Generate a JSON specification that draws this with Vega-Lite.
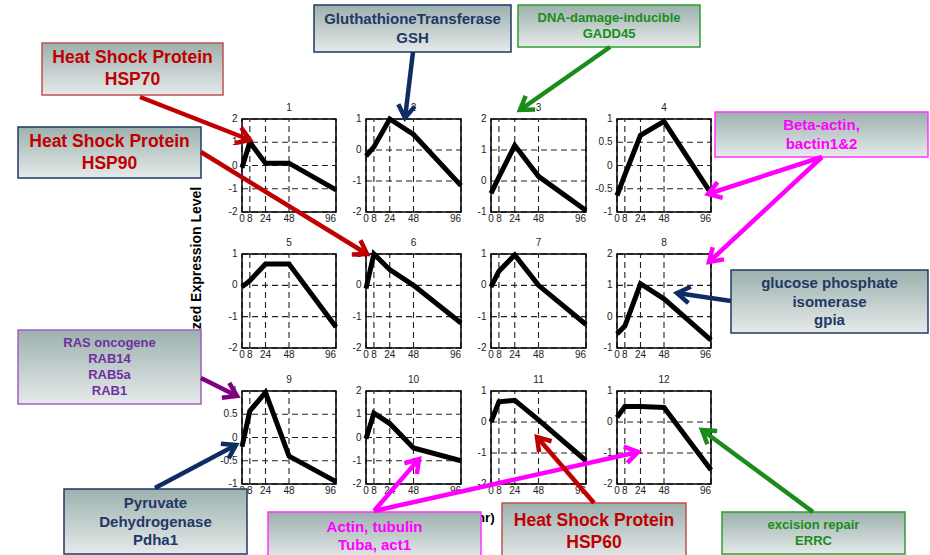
{
  "$schema": "https://vega.github.io/schema/vega-lite/v6.json",
  "width": 930,
  "height": 555,
  "padding": 0,
  "autosize": "none",
  "background": "white",
  "config": {
    "view": {"stroke": null},
    "font": "Liberation Sans",
    "rule": {"strokeDash": [6, 4], "color": "#222222", "strokeWidth": 1.1},
    "text": {"font": "Liberation Sans", "fontSize": 10, "color": "#222222"}
  },
  "datasets": {
    "panelRows": [
      {"panel": 1, "hour": 0, "level": -0.1}, {"panel": 1, "hour": 8, "level": 1.0}, {"panel": 1, "hour": 24, "level": 0.1}, {"panel": 1, "hour": 48, "level": 0.1}, {"panel": 1, "hour": 96, "level": -1.05},
      {"panel": 2, "hour": 0, "level": -0.2}, {"panel": 2, "hour": 8, "level": 0.1}, {"panel": 2, "hour": 24, "level": 1.0}, {"panel": 2, "hour": 48, "level": 0.5}, {"panel": 2, "hour": 96, "level": -1.15},
      {"panel": 3, "hour": 0, "level": -0.4}, {"panel": 3, "hour": 8, "level": 0.13}, {"panel": 3, "hour": 24, "level": 1.15}, {"panel": 3, "hour": 48, "level": 0.15}, {"panel": 3, "hour": 96, "level": -0.95},
      {"panel": 4, "hour": 0, "level": -0.65}, {"panel": 4, "hour": 8, "level": -0.2}, {"panel": 4, "hour": 24, "level": 0.65}, {"panel": 4, "hour": 48, "level": 0.95}, {"panel": 4, "hour": 96, "level": -0.6},
      {"panel": 5, "hour": 0, "level": -0.05}, {"panel": 5, "hour": 8, "level": 0.15}, {"panel": 5, "hour": 24, "level": 0.68}, {"panel": 5, "hour": 48, "level": 0.68}, {"panel": 5, "hour": 96, "level": -1.33},
      {"panel": 6, "hour": 0, "level": -0.1}, {"panel": 6, "hour": 8, "level": 1.0}, {"panel": 6, "hour": 24, "level": 0.5}, {"panel": 6, "hour": 48, "level": 0.0}, {"panel": 6, "hour": 96, "level": -1.2},
      {"panel": 7, "hour": 0, "level": -0.05}, {"panel": 7, "hour": 8, "level": 0.45}, {"panel": 7, "hour": 24, "level": 0.97}, {"panel": 7, "hour": 48, "level": 0.0}, {"panel": 7, "hour": 96, "level": -1.25},
      {"panel": 8, "hour": 0, "level": -0.55}, {"panel": 8, "hour": 8, "level": -0.3}, {"panel": 8, "hour": 24, "level": 1.05}, {"panel": 8, "hour": 48, "level": 0.57}, {"panel": 8, "hour": 96, "level": -0.75},
      {"panel": 9, "hour": 0, "level": -0.2}, {"panel": 9, "hour": 8, "level": 0.57}, {"panel": 9, "hour": 24, "level": 0.97}, {"panel": 9, "hour": 48, "level": -0.4}, {"panel": 9, "hour": 96, "level": -0.95},
      {"panel": 10, "hour": 0, "level": -0.05}, {"panel": 10, "hour": 8, "level": 1.05}, {"panel": 10, "hour": 24, "level": 0.6}, {"panel": 10, "hour": 48, "level": -0.45}, {"panel": 10, "hour": 96, "level": -1.0},
      {"panel": 11, "hour": 0, "level": 0.0}, {"panel": 11, "hour": 8, "level": 0.65}, {"panel": 11, "hour": 24, "level": 0.7}, {"panel": 11, "hour": 48, "level": 0.07}, {"panel": 11, "hour": 96, "level": -1.25},
      {"panel": 12, "hour": 0, "level": 0.15}, {"panel": 12, "hour": 8, "level": 0.5}, {"panel": 12, "hour": 24, "level": 0.5}, {"panel": 12, "hour": 48, "level": 0.47}, {"panel": 12, "hour": 96, "level": -1.55},
      {"panel": 1, "tick": -2}, {"panel": 1, "tick": -1}, {"panel": 1, "tick": 0}, {"panel": 1, "tick": 1}, {"panel": 1, "tick": 2},
      {"panel": 2, "tick": -2}, {"panel": 2, "tick": -1}, {"panel": 2, "tick": 0}, {"panel": 2, "tick": 1},
      {"panel": 3, "tick": -1}, {"panel": 3, "tick": 0}, {"panel": 3, "tick": 1}, {"panel": 3, "tick": 2},
      {"panel": 4, "tick": -1}, {"panel": 4, "tick": -0.5}, {"panel": 4, "tick": 0}, {"panel": 4, "tick": 0.5}, {"panel": 4, "tick": 1},
      {"panel": 5, "tick": -2}, {"panel": 5, "tick": -1}, {"panel": 5, "tick": 0}, {"panel": 5, "tick": 1},
      {"panel": 6, "tick": -2}, {"panel": 6, "tick": -1}, {"panel": 6, "tick": 0}, {"panel": 6, "tick": 1},
      {"panel": 7, "tick": -2}, {"panel": 7, "tick": -1}, {"panel": 7, "tick": 0}, {"panel": 7, "tick": 1},
      {"panel": 8, "tick": -1}, {"panel": 8, "tick": 0}, {"panel": 8, "tick": 1}, {"panel": 8, "tick": 2},
      {"panel": 9, "tick": -1}, {"panel": 9, "tick": -0.5}, {"panel": 9, "tick": 0}, {"panel": 9, "tick": 0.5}, {"panel": 9, "tick": 1},
      {"panel": 10, "tick": -2}, {"panel": 10, "tick": -1}, {"panel": 10, "tick": 0}, {"panel": 10, "tick": 1}, {"panel": 10, "tick": 2},
      {"panel": 11, "tick": -2}, {"panel": 11, "tick": -1}, {"panel": 11, "tick": 0}, {"panel": 11, "tick": 1},
      {"panel": 12, "tick": -2}, {"panel": 12, "tick": -1}, {"panel": 12, "tick": 0}, {"panel": 12, "tick": 1}
    ],
    "axisTitles": [
      {"axis": "y", "caption": "Normalized Expression Level", "x": 197, "y": 284},
      {"axis": "x", "caption": "Time (hr)", "x": 466, "y": 518}
    ],
    "callouts": [
      {"label": "Heat Shock Protein\nHSP70", "group": "chaperone", "edge": "chaperone", "x": 42, "x2": 223, "y": 43, "y2": 95},
      {"label": "Heat Shock Protein\nHSP90", "group": "chaperone", "edge": "metabolic", "x": 18, "x2": 201, "y": 127, "y2": 178},
      {"label": "GluthathioneTransferase\nGSH", "group": "metabolic", "edge": "metabolic", "x": 314, "x2": 511, "y": 5, "y2": 52},
      {"label": "DNA-damage-inducible\nGADD45", "group": "repair", "edge": "repair", "x": 518, "x2": 700, "y": 5, "y2": 47},
      {"label": "Beta-actin,\nbactin1&2", "group": "cytoskeleton", "edge": "cytoskeleton", "x": 715, "x2": 928, "y": 112, "y2": 157},
      {"label": "glucose phosphate\nisomerase\ngpia", "group": "metabolic", "edge": "metabolic", "x": 731, "x2": 928, "y": 270, "y2": 333},
      {"label": "RAS oncogene\nRAB14\nRAB5a\nRAB1", "group": "signaling", "edge": "signaling", "x": 18, "x2": 201, "y": 330, "y2": 404},
      {"label": "Pyruvate\nDehydrogenase\nPdha1", "group": "metabolic", "edge": "metabolic", "x": 64, "x2": 247, "y": 489, "y2": 554},
      {"label": "Actin, tubulin\nTuba, act1", "group": "cytoskeleton", "edge": "cytoskeleton", "x": 268, "x2": 481, "y": 512, "y2": 560},
      {"label": "Heat Shock Protein\nHSP60", "group": "chaperone", "edge": "chaperone", "x": 502, "x2": 686, "y": 503, "y2": 560},
      {"label": "excision repair\nERRC", "group": "repair", "edge": "repair", "x": 722, "x2": 905, "y": 512, "y2": 554}
    ],
    "arrows": [
      {"group": "chaperone", "x": 140, "y": 97, "x2": 250, "y2": 140},
      {"group": "chaperone", "x": 201, "y": 152, "x2": 367, "y2": 254},
      {"group": "metabolic", "x": 413, "y": 52, "x2": 405, "y2": 118},
      {"group": "repair", "x": 610, "y": 47, "x2": 520, "y2": 110},
      {"group": "cytoskeleton", "x": 822, "y": 157, "x2": 708, "y2": 194},
      {"group": "cytoskeleton", "x": 822, "y": 157, "x2": 709, "y2": 262},
      {"group": "metabolic", "x": 731, "y": 301, "x2": 677, "y2": 293},
      {"group": "signaling", "x": 201, "y": 378, "x2": 237, "y2": 396},
      {"group": "metabolic", "x": 155, "y": 488, "x2": 236, "y2": 445},
      {"group": "cytoskeleton", "x": 374, "y": 511, "x2": 419, "y2": 459},
      {"group": "cytoskeleton", "x": 374, "y": 511, "x2": 638, "y2": 452},
      {"group": "chaperone", "x": 594, "y": 503, "x2": 537, "y2": 437},
      {"group": "repair", "x": 813, "y": 512, "x2": 702, "y2": 430}
    ]
  },
  "data": {"name": "panelRows"},
  "resolve": {"scale": {"x": "independent", "y": "independent"}},
  "layer": [
    {
      "transform": [{"filter": "datum.panel == 1"}],
      "layer": [
        {"transform": [{"filter": "isValid(datum.hour)"}], "mark": "rule", "encoding": {"x": {"field": "hour", "type": "quantitative", "scale": {"domain": [0, 96], "range": [242, 336], "nice": false}, "axis": null}, "y": {"datum": -2, "type": "quantitative", "axis": null}, "y2": {"datum": 2}}},
        {"transform": [{"filter": "isValid(datum.tick)"}], "mark": "rule", "encoding": {"y": {"field": "tick", "type": "quantitative", "scale": {"domain": [-2, 2], "range": [212, 119], "nice": false}, "axis": null}, "x": {"datum": 0, "type": "quantitative", "axis": null}, "x2": {"datum": 96}}},
        {"transform": [{"filter": "isValid(datum.hour)"}], "mark": {"type": "line", "color": "black", "strokeWidth": 5, "strokeJoin": "miter"}, "encoding": {"x": {"field": "hour", "type": "quantitative", "scale": {"domain": [0, 96], "range": [242, 336], "nice": false}, "axis": null}, "y": {"field": "level", "type": "quantitative", "scale": {"domain": [-2, 2], "range": [212, 119], "nice": false}, "axis": null}}},
        {"transform": [{"filter": "datum.hour === 0"}], "mark": {"type": "rect", "filled": false, "color": "black", "strokeWidth": 1.5}, "encoding": {"x": {"datum": 0, "type": "quantitative", "axis": null}, "x2": {"datum": 96}, "y": {"datum": -2, "type": "quantitative", "axis": null}, "y2": {"datum": 2}}},
        {"transform": [{"filter": "datum.hour === 0"}], "mark": {"type": "text", "dy": -11}, "encoding": {"x": {"datum": 48, "type": "quantitative", "axis": null}, "y": {"datum": 2, "type": "quantitative", "axis": null}, "text": {"field": "panel", "type": "nominal"}}},
        {"transform": [{"filter": "isValid(datum.hour) && datum.hour < 96"}], "mark": {"type": "text", "baseline": "top", "dy": 2}, "encoding": {"x": {"field": "hour", "type": "quantitative", "axis": null}, "y": {"datum": -2, "type": "quantitative", "axis": null}, "text": {"field": "hour", "type": "nominal"}}},
        {"transform": [{"filter": "datum.hour === 96"}], "mark": {"type": "text", "baseline": "top", "dy": 2, "align": "right"}, "encoding": {"x": {"field": "hour", "type": "quantitative", "axis": null}, "y": {"datum": -2, "type": "quantitative", "axis": null}, "text": {"field": "hour", "type": "nominal"}}},
        {"transform": [{"filter": "isValid(datum.tick)"}], "mark": {"type": "text", "align": "right", "dx": -4.5}, "encoding": {"y": {"field": "tick", "type": "quantitative", "axis": null}, "x": {"datum": 0, "type": "quantitative", "axis": null}, "text": {"field": "tick", "type": "nominal"}}}
      ]
    },
    {
      "transform": [{"filter": "datum.panel == 2"}],
      "layer": [
        {"transform": [{"filter": "isValid(datum.hour)"}], "mark": "rule", "encoding": {"x": {"field": "hour", "type": "quantitative", "scale": {"domain": [0, 96], "range": [366, 461], "nice": false}, "axis": null}, "y": {"datum": -2, "type": "quantitative", "axis": null}, "y2": {"datum": 1}}},
        {"transform": [{"filter": "isValid(datum.tick)"}], "mark": "rule", "encoding": {"y": {"field": "tick", "type": "quantitative", "scale": {"domain": [-2, 1], "range": [212, 119], "nice": false}, "axis": null}, "x": {"datum": 0, "type": "quantitative", "axis": null}, "x2": {"datum": 96}}},
        {"transform": [{"filter": "isValid(datum.hour)"}], "mark": {"type": "line", "color": "black", "strokeWidth": 5, "strokeJoin": "miter"}, "encoding": {"x": {"field": "hour", "type": "quantitative", "scale": {"domain": [0, 96], "range": [366, 461], "nice": false}, "axis": null}, "y": {"field": "level", "type": "quantitative", "scale": {"domain": [-2, 1], "range": [212, 119], "nice": false}, "axis": null}}},
        {"transform": [{"filter": "datum.hour === 0"}], "mark": {"type": "rect", "filled": false, "color": "black", "strokeWidth": 1.5}, "encoding": {"x": {"datum": 0, "type": "quantitative", "axis": null}, "x2": {"datum": 96}, "y": {"datum": -2, "type": "quantitative", "axis": null}, "y2": {"datum": 1}}},
        {"transform": [{"filter": "datum.hour === 0"}], "mark": {"type": "text", "dy": -11}, "encoding": {"x": {"datum": 48, "type": "quantitative", "axis": null}, "y": {"datum": 1, "type": "quantitative", "axis": null}, "text": {"field": "panel", "type": "nominal"}}},
        {"transform": [{"filter": "isValid(datum.hour) && datum.hour < 96"}], "mark": {"type": "text", "baseline": "top", "dy": 2}, "encoding": {"x": {"field": "hour", "type": "quantitative", "axis": null}, "y": {"datum": -2, "type": "quantitative", "axis": null}, "text": {"field": "hour", "type": "nominal"}}},
        {"transform": [{"filter": "datum.hour === 96"}], "mark": {"type": "text", "baseline": "top", "dy": 2, "align": "right"}, "encoding": {"x": {"field": "hour", "type": "quantitative", "axis": null}, "y": {"datum": -2, "type": "quantitative", "axis": null}, "text": {"field": "hour", "type": "nominal"}}},
        {"transform": [{"filter": "isValid(datum.tick)"}], "mark": {"type": "text", "align": "right", "dx": -4.5}, "encoding": {"y": {"field": "tick", "type": "quantitative", "axis": null}, "x": {"datum": 0, "type": "quantitative", "axis": null}, "text": {"field": "tick", "type": "nominal"}}}
      ]
    },
    {
      "transform": [{"filter": "datum.panel == 3"}],
      "layer": [
        {"transform": [{"filter": "isValid(datum.hour)"}], "mark": "rule", "encoding": {"x": {"field": "hour", "type": "quantitative", "scale": {"domain": [0, 96], "range": [491, 586], "nice": false}, "axis": null}, "y": {"datum": -1, "type": "quantitative", "axis": null}, "y2": {"datum": 2}}},
        {"transform": [{"filter": "isValid(datum.tick)"}], "mark": "rule", "encoding": {"y": {"field": "tick", "type": "quantitative", "scale": {"domain": [-1, 2], "range": [212, 119], "nice": false}, "axis": null}, "x": {"datum": 0, "type": "quantitative", "axis": null}, "x2": {"datum": 96}}},
        {"transform": [{"filter": "isValid(datum.hour)"}], "mark": {"type": "line", "color": "black", "strokeWidth": 5, "strokeJoin": "miter"}, "encoding": {"x": {"field": "hour", "type": "quantitative", "scale": {"domain": [0, 96], "range": [491, 586], "nice": false}, "axis": null}, "y": {"field": "level", "type": "quantitative", "scale": {"domain": [-1, 2], "range": [212, 119], "nice": false}, "axis": null}}},
        {"transform": [{"filter": "datum.hour === 0"}], "mark": {"type": "rect", "filled": false, "color": "black", "strokeWidth": 1.5}, "encoding": {"x": {"datum": 0, "type": "quantitative", "axis": null}, "x2": {"datum": 96}, "y": {"datum": -1, "type": "quantitative", "axis": null}, "y2": {"datum": 2}}},
        {"transform": [{"filter": "datum.hour === 0"}], "mark": {"type": "text", "dy": -11}, "encoding": {"x": {"datum": 48, "type": "quantitative", "axis": null}, "y": {"datum": 2, "type": "quantitative", "axis": null}, "text": {"field": "panel", "type": "nominal"}}},
        {"transform": [{"filter": "isValid(datum.hour) && datum.hour < 96"}], "mark": {"type": "text", "baseline": "top", "dy": 2}, "encoding": {"x": {"field": "hour", "type": "quantitative", "axis": null}, "y": {"datum": -1, "type": "quantitative", "axis": null}, "text": {"field": "hour", "type": "nominal"}}},
        {"transform": [{"filter": "datum.hour === 96"}], "mark": {"type": "text", "baseline": "top", "dy": 2, "align": "right"}, "encoding": {"x": {"field": "hour", "type": "quantitative", "axis": null}, "y": {"datum": -1, "type": "quantitative", "axis": null}, "text": {"field": "hour", "type": "nominal"}}},
        {"transform": [{"filter": "isValid(datum.tick)"}], "mark": {"type": "text", "align": "right", "dx": -4.5}, "encoding": {"y": {"field": "tick", "type": "quantitative", "axis": null}, "x": {"datum": 0, "type": "quantitative", "axis": null}, "text": {"field": "tick", "type": "nominal"}}}
      ]
    },
    {
      "transform": [{"filter": "datum.panel == 4"}],
      "layer": [
        {"transform": [{"filter": "isValid(datum.hour)"}], "mark": "rule", "encoding": {"x": {"field": "hour", "type": "quantitative", "scale": {"domain": [0, 96], "range": [617, 711], "nice": false}, "axis": null}, "y": {"datum": -1, "type": "quantitative", "axis": null}, "y2": {"datum": 1}}},
        {"transform": [{"filter": "isValid(datum.tick)"}], "mark": "rule", "encoding": {"y": {"field": "tick", "type": "quantitative", "scale": {"domain": [-1, 1], "range": [212, 119], "nice": false}, "axis": null}, "x": {"datum": 0, "type": "quantitative", "axis": null}, "x2": {"datum": 96}}},
        {"transform": [{"filter": "isValid(datum.hour)"}], "mark": {"type": "line", "color": "black", "strokeWidth": 5, "strokeJoin": "miter"}, "encoding": {"x": {"field": "hour", "type": "quantitative", "scale": {"domain": [0, 96], "range": [617, 711], "nice": false}, "axis": null}, "y": {"field": "level", "type": "quantitative", "scale": {"domain": [-1, 1], "range": [212, 119], "nice": false}, "axis": null}}},
        {"transform": [{"filter": "datum.hour === 0"}], "mark": {"type": "rect", "filled": false, "color": "black", "strokeWidth": 1.5}, "encoding": {"x": {"datum": 0, "type": "quantitative", "axis": null}, "x2": {"datum": 96}, "y": {"datum": -1, "type": "quantitative", "axis": null}, "y2": {"datum": 1}}},
        {"transform": [{"filter": "datum.hour === 0"}], "mark": {"type": "text", "dy": -11}, "encoding": {"x": {"datum": 48, "type": "quantitative", "axis": null}, "y": {"datum": 1, "type": "quantitative", "axis": null}, "text": {"field": "panel", "type": "nominal"}}},
        {"transform": [{"filter": "isValid(datum.hour) && datum.hour < 96"}], "mark": {"type": "text", "baseline": "top", "dy": 2}, "encoding": {"x": {"field": "hour", "type": "quantitative", "axis": null}, "y": {"datum": -1, "type": "quantitative", "axis": null}, "text": {"field": "hour", "type": "nominal"}}},
        {"transform": [{"filter": "datum.hour === 96"}], "mark": {"type": "text", "baseline": "top", "dy": 2, "align": "right"}, "encoding": {"x": {"field": "hour", "type": "quantitative", "axis": null}, "y": {"datum": -1, "type": "quantitative", "axis": null}, "text": {"field": "hour", "type": "nominal"}}},
        {"transform": [{"filter": "isValid(datum.tick)"}], "mark": {"type": "text", "align": "right", "dx": -4.5}, "encoding": {"y": {"field": "tick", "type": "quantitative", "axis": null}, "x": {"datum": 0, "type": "quantitative", "axis": null}, "text": {"field": "tick", "type": "nominal"}}}
      ]
    },
    {
      "transform": [{"filter": "datum.panel == 5"}],
      "layer": [
        {"transform": [{"filter": "isValid(datum.hour)"}], "mark": "rule", "encoding": {"x": {"field": "hour", "type": "quantitative", "scale": {"domain": [0, 96], "range": [242, 336], "nice": false}, "axis": null}, "y": {"datum": -2, "type": "quantitative", "axis": null}, "y2": {"datum": 1}}},
        {"transform": [{"filter": "isValid(datum.tick)"}], "mark": "rule", "encoding": {"y": {"field": "tick", "type": "quantitative", "scale": {"domain": [-2, 1], "range": [348, 254], "nice": false}, "axis": null}, "x": {"datum": 0, "type": "quantitative", "axis": null}, "x2": {"datum": 96}}},
        {"transform": [{"filter": "isValid(datum.hour)"}], "mark": {"type": "line", "color": "black", "strokeWidth": 5, "strokeJoin": "miter"}, "encoding": {"x": {"field": "hour", "type": "quantitative", "scale": {"domain": [0, 96], "range": [242, 336], "nice": false}, "axis": null}, "y": {"field": "level", "type": "quantitative", "scale": {"domain": [-2, 1], "range": [348, 254], "nice": false}, "axis": null}}},
        {"transform": [{"filter": "datum.hour === 0"}], "mark": {"type": "rect", "filled": false, "color": "black", "strokeWidth": 1.5}, "encoding": {"x": {"datum": 0, "type": "quantitative", "axis": null}, "x2": {"datum": 96}, "y": {"datum": -2, "type": "quantitative", "axis": null}, "y2": {"datum": 1}}},
        {"transform": [{"filter": "datum.hour === 0"}], "mark": {"type": "text", "dy": -11}, "encoding": {"x": {"datum": 48, "type": "quantitative", "axis": null}, "y": {"datum": 1, "type": "quantitative", "axis": null}, "text": {"field": "panel", "type": "nominal"}}},
        {"transform": [{"filter": "isValid(datum.hour) && datum.hour < 96"}], "mark": {"type": "text", "baseline": "top", "dy": 2}, "encoding": {"x": {"field": "hour", "type": "quantitative", "axis": null}, "y": {"datum": -2, "type": "quantitative", "axis": null}, "text": {"field": "hour", "type": "nominal"}}},
        {"transform": [{"filter": "datum.hour === 96"}], "mark": {"type": "text", "baseline": "top", "dy": 2, "align": "right"}, "encoding": {"x": {"field": "hour", "type": "quantitative", "axis": null}, "y": {"datum": -2, "type": "quantitative", "axis": null}, "text": {"field": "hour", "type": "nominal"}}},
        {"transform": [{"filter": "isValid(datum.tick)"}], "mark": {"type": "text", "align": "right", "dx": -4.5}, "encoding": {"y": {"field": "tick", "type": "quantitative", "axis": null}, "x": {"datum": 0, "type": "quantitative", "axis": null}, "text": {"field": "tick", "type": "nominal"}}}
      ]
    },
    {
      "transform": [{"filter": "datum.panel == 6"}],
      "layer": [
        {"transform": [{"filter": "isValid(datum.hour)"}], "mark": "rule", "encoding": {"x": {"field": "hour", "type": "quantitative", "scale": {"domain": [0, 96], "range": [366, 461], "nice": false}, "axis": null}, "y": {"datum": -2, "type": "quantitative", "axis": null}, "y2": {"datum": 1}}},
        {"transform": [{"filter": "isValid(datum.tick)"}], "mark": "rule", "encoding": {"y": {"field": "tick", "type": "quantitative", "scale": {"domain": [-2, 1], "range": [348, 254], "nice": false}, "axis": null}, "x": {"datum": 0, "type": "quantitative", "axis": null}, "x2": {"datum": 96}}},
        {"transform": [{"filter": "isValid(datum.hour)"}], "mark": {"type": "line", "color": "black", "strokeWidth": 5, "strokeJoin": "miter"}, "encoding": {"x": {"field": "hour", "type": "quantitative", "scale": {"domain": [0, 96], "range": [366, 461], "nice": false}, "axis": null}, "y": {"field": "level", "type": "quantitative", "scale": {"domain": [-2, 1], "range": [348, 254], "nice": false}, "axis": null}}},
        {"transform": [{"filter": "datum.hour === 0"}], "mark": {"type": "rect", "filled": false, "color": "black", "strokeWidth": 1.5}, "encoding": {"x": {"datum": 0, "type": "quantitative", "axis": null}, "x2": {"datum": 96}, "y": {"datum": -2, "type": "quantitative", "axis": null}, "y2": {"datum": 1}}},
        {"transform": [{"filter": "datum.hour === 0"}], "mark": {"type": "text", "dy": -11}, "encoding": {"x": {"datum": 48, "type": "quantitative", "axis": null}, "y": {"datum": 1, "type": "quantitative", "axis": null}, "text": {"field": "panel", "type": "nominal"}}},
        {"transform": [{"filter": "isValid(datum.hour) && datum.hour < 96"}], "mark": {"type": "text", "baseline": "top", "dy": 2}, "encoding": {"x": {"field": "hour", "type": "quantitative", "axis": null}, "y": {"datum": -2, "type": "quantitative", "axis": null}, "text": {"field": "hour", "type": "nominal"}}},
        {"transform": [{"filter": "datum.hour === 96"}], "mark": {"type": "text", "baseline": "top", "dy": 2, "align": "right"}, "encoding": {"x": {"field": "hour", "type": "quantitative", "axis": null}, "y": {"datum": -2, "type": "quantitative", "axis": null}, "text": {"field": "hour", "type": "nominal"}}},
        {"transform": [{"filter": "isValid(datum.tick)"}], "mark": {"type": "text", "align": "right", "dx": -4.5}, "encoding": {"y": {"field": "tick", "type": "quantitative", "axis": null}, "x": {"datum": 0, "type": "quantitative", "axis": null}, "text": {"field": "tick", "type": "nominal"}}}
      ]
    },
    {
      "transform": [{"filter": "datum.panel == 7"}],
      "layer": [
        {"transform": [{"filter": "isValid(datum.hour)"}], "mark": "rule", "encoding": {"x": {"field": "hour", "type": "quantitative", "scale": {"domain": [0, 96], "range": [491, 586], "nice": false}, "axis": null}, "y": {"datum": -2, "type": "quantitative", "axis": null}, "y2": {"datum": 1}}},
        {"transform": [{"filter": "isValid(datum.tick)"}], "mark": "rule", "encoding": {"y": {"field": "tick", "type": "quantitative", "scale": {"domain": [-2, 1], "range": [348, 254], "nice": false}, "axis": null}, "x": {"datum": 0, "type": "quantitative", "axis": null}, "x2": {"datum": 96}}},
        {"transform": [{"filter": "isValid(datum.hour)"}], "mark": {"type": "line", "color": "black", "strokeWidth": 5, "strokeJoin": "miter"}, "encoding": {"x": {"field": "hour", "type": "quantitative", "scale": {"domain": [0, 96], "range": [491, 586], "nice": false}, "axis": null}, "y": {"field": "level", "type": "quantitative", "scale": {"domain": [-2, 1], "range": [348, 254], "nice": false}, "axis": null}}},
        {"transform": [{"filter": "datum.hour === 0"}], "mark": {"type": "rect", "filled": false, "color": "black", "strokeWidth": 1.5}, "encoding": {"x": {"datum": 0, "type": "quantitative", "axis": null}, "x2": {"datum": 96}, "y": {"datum": -2, "type": "quantitative", "axis": null}, "y2": {"datum": 1}}},
        {"transform": [{"filter": "datum.hour === 0"}], "mark": {"type": "text", "dy": -11}, "encoding": {"x": {"datum": 48, "type": "quantitative", "axis": null}, "y": {"datum": 1, "type": "quantitative", "axis": null}, "text": {"field": "panel", "type": "nominal"}}},
        {"transform": [{"filter": "isValid(datum.hour) && datum.hour < 96"}], "mark": {"type": "text", "baseline": "top", "dy": 2}, "encoding": {"x": {"field": "hour", "type": "quantitative", "axis": null}, "y": {"datum": -2, "type": "quantitative", "axis": null}, "text": {"field": "hour", "type": "nominal"}}},
        {"transform": [{"filter": "datum.hour === 96"}], "mark": {"type": "text", "baseline": "top", "dy": 2, "align": "right"}, "encoding": {"x": {"field": "hour", "type": "quantitative", "axis": null}, "y": {"datum": -2, "type": "quantitative", "axis": null}, "text": {"field": "hour", "type": "nominal"}}},
        {"transform": [{"filter": "isValid(datum.tick)"}], "mark": {"type": "text", "align": "right", "dx": -4.5}, "encoding": {"y": {"field": "tick", "type": "quantitative", "axis": null}, "x": {"datum": 0, "type": "quantitative", "axis": null}, "text": {"field": "tick", "type": "nominal"}}}
      ]
    },
    {
      "transform": [{"filter": "datum.panel == 8"}],
      "layer": [
        {"transform": [{"filter": "isValid(datum.hour)"}], "mark": "rule", "encoding": {"x": {"field": "hour", "type": "quantitative", "scale": {"domain": [0, 96], "range": [617, 711], "nice": false}, "axis": null}, "y": {"datum": -1, "type": "quantitative", "axis": null}, "y2": {"datum": 2}}},
        {"transform": [{"filter": "isValid(datum.tick)"}], "mark": "rule", "encoding": {"y": {"field": "tick", "type": "quantitative", "scale": {"domain": [-1, 2], "range": [348, 254], "nice": false}, "axis": null}, "x": {"datum": 0, "type": "quantitative", "axis": null}, "x2": {"datum": 96}}},
        {"transform": [{"filter": "isValid(datum.hour)"}], "mark": {"type": "line", "color": "black", "strokeWidth": 5, "strokeJoin": "miter"}, "encoding": {"x": {"field": "hour", "type": "quantitative", "scale": {"domain": [0, 96], "range": [617, 711], "nice": false}, "axis": null}, "y": {"field": "level", "type": "quantitative", "scale": {"domain": [-1, 2], "range": [348, 254], "nice": false}, "axis": null}}},
        {"transform": [{"filter": "datum.hour === 0"}], "mark": {"type": "rect", "filled": false, "color": "black", "strokeWidth": 1.5}, "encoding": {"x": {"datum": 0, "type": "quantitative", "axis": null}, "x2": {"datum": 96}, "y": {"datum": -1, "type": "quantitative", "axis": null}, "y2": {"datum": 2}}},
        {"transform": [{"filter": "datum.hour === 0"}], "mark": {"type": "text", "dy": -11}, "encoding": {"x": {"datum": 48, "type": "quantitative", "axis": null}, "y": {"datum": 2, "type": "quantitative", "axis": null}, "text": {"field": "panel", "type": "nominal"}}},
        {"transform": [{"filter": "isValid(datum.hour) && datum.hour < 96"}], "mark": {"type": "text", "baseline": "top", "dy": 2}, "encoding": {"x": {"field": "hour", "type": "quantitative", "axis": null}, "y": {"datum": -1, "type": "quantitative", "axis": null}, "text": {"field": "hour", "type": "nominal"}}},
        {"transform": [{"filter": "datum.hour === 96"}], "mark": {"type": "text", "baseline": "top", "dy": 2, "align": "right"}, "encoding": {"x": {"field": "hour", "type": "quantitative", "axis": null}, "y": {"datum": -1, "type": "quantitative", "axis": null}, "text": {"field": "hour", "type": "nominal"}}},
        {"transform": [{"filter": "isValid(datum.tick)"}], "mark": {"type": "text", "align": "right", "dx": -4.5}, "encoding": {"y": {"field": "tick", "type": "quantitative", "axis": null}, "x": {"datum": 0, "type": "quantitative", "axis": null}, "text": {"field": "tick", "type": "nominal"}}}
      ]
    },
    {
      "transform": [{"filter": "datum.panel == 9"}],
      "layer": [
        {"transform": [{"filter": "isValid(datum.hour)"}], "mark": "rule", "encoding": {"x": {"field": "hour", "type": "quantitative", "scale": {"domain": [0, 96], "range": [242, 336], "nice": false}, "axis": null}, "y": {"datum": -1, "type": "quantitative", "axis": null}, "y2": {"datum": 1}}},
        {"transform": [{"filter": "isValid(datum.tick)"}], "mark": "rule", "encoding": {"y": {"field": "tick", "type": "quantitative", "scale": {"domain": [-1, 1], "range": [484, 391], "nice": false}, "axis": null}, "x": {"datum": 0, "type": "quantitative", "axis": null}, "x2": {"datum": 96}}},
        {"transform": [{"filter": "isValid(datum.hour)"}], "mark": {"type": "line", "color": "black", "strokeWidth": 5, "strokeJoin": "miter"}, "encoding": {"x": {"field": "hour", "type": "quantitative", "scale": {"domain": [0, 96], "range": [242, 336], "nice": false}, "axis": null}, "y": {"field": "level", "type": "quantitative", "scale": {"domain": [-1, 1], "range": [484, 391], "nice": false}, "axis": null}}},
        {"transform": [{"filter": "datum.hour === 0"}], "mark": {"type": "rect", "filled": false, "color": "black", "strokeWidth": 1.5}, "encoding": {"x": {"datum": 0, "type": "quantitative", "axis": null}, "x2": {"datum": 96}, "y": {"datum": -1, "type": "quantitative", "axis": null}, "y2": {"datum": 1}}},
        {"transform": [{"filter": "datum.hour === 0"}], "mark": {"type": "text", "dy": -11}, "encoding": {"x": {"datum": 48, "type": "quantitative", "axis": null}, "y": {"datum": 1, "type": "quantitative", "axis": null}, "text": {"field": "panel", "type": "nominal"}}},
        {"transform": [{"filter": "isValid(datum.hour) && datum.hour < 96"}], "mark": {"type": "text", "baseline": "top", "dy": 2}, "encoding": {"x": {"field": "hour", "type": "quantitative", "axis": null}, "y": {"datum": -1, "type": "quantitative", "axis": null}, "text": {"field": "hour", "type": "nominal"}}},
        {"transform": [{"filter": "datum.hour === 96"}], "mark": {"type": "text", "baseline": "top", "dy": 2, "align": "right"}, "encoding": {"x": {"field": "hour", "type": "quantitative", "axis": null}, "y": {"datum": -1, "type": "quantitative", "axis": null}, "text": {"field": "hour", "type": "nominal"}}},
        {"transform": [{"filter": "isValid(datum.tick)"}], "mark": {"type": "text", "align": "right", "dx": -4.5}, "encoding": {"y": {"field": "tick", "type": "quantitative", "axis": null}, "x": {"datum": 0, "type": "quantitative", "axis": null}, "text": {"field": "tick", "type": "nominal"}}}
      ]
    },
    {
      "transform": [{"filter": "datum.panel == 10"}],
      "layer": [
        {"transform": [{"filter": "isValid(datum.hour)"}], "mark": "rule", "encoding": {"x": {"field": "hour", "type": "quantitative", "scale": {"domain": [0, 96], "range": [366, 461], "nice": false}, "axis": null}, "y": {"datum": -2, "type": "quantitative", "axis": null}, "y2": {"datum": 2}}},
        {"transform": [{"filter": "isValid(datum.tick)"}], "mark": "rule", "encoding": {"y": {"field": "tick", "type": "quantitative", "scale": {"domain": [-2, 2], "range": [484, 391], "nice": false}, "axis": null}, "x": {"datum": 0, "type": "quantitative", "axis": null}, "x2": {"datum": 96}}},
        {"transform": [{"filter": "isValid(datum.hour)"}], "mark": {"type": "line", "color": "black", "strokeWidth": 5, "strokeJoin": "miter"}, "encoding": {"x": {"field": "hour", "type": "quantitative", "scale": {"domain": [0, 96], "range": [366, 461], "nice": false}, "axis": null}, "y": {"field": "level", "type": "quantitative", "scale": {"domain": [-2, 2], "range": [484, 391], "nice": false}, "axis": null}}},
        {"transform": [{"filter": "datum.hour === 0"}], "mark": {"type": "rect", "filled": false, "color": "black", "strokeWidth": 1.5}, "encoding": {"x": {"datum": 0, "type": "quantitative", "axis": null}, "x2": {"datum": 96}, "y": {"datum": -2, "type": "quantitative", "axis": null}, "y2": {"datum": 2}}},
        {"transform": [{"filter": "datum.hour === 0"}], "mark": {"type": "text", "dy": -11}, "encoding": {"x": {"datum": 48, "type": "quantitative", "axis": null}, "y": {"datum": 2, "type": "quantitative", "axis": null}, "text": {"field": "panel", "type": "nominal"}}},
        {"transform": [{"filter": "isValid(datum.hour) && datum.hour < 96"}], "mark": {"type": "text", "baseline": "top", "dy": 2}, "encoding": {"x": {"field": "hour", "type": "quantitative", "axis": null}, "y": {"datum": -2, "type": "quantitative", "axis": null}, "text": {"field": "hour", "type": "nominal"}}},
        {"transform": [{"filter": "datum.hour === 96"}], "mark": {"type": "text", "baseline": "top", "dy": 2, "align": "right"}, "encoding": {"x": {"field": "hour", "type": "quantitative", "axis": null}, "y": {"datum": -2, "type": "quantitative", "axis": null}, "text": {"field": "hour", "type": "nominal"}}},
        {"transform": [{"filter": "isValid(datum.tick)"}], "mark": {"type": "text", "align": "right", "dx": -4.5}, "encoding": {"y": {"field": "tick", "type": "quantitative", "axis": null}, "x": {"datum": 0, "type": "quantitative", "axis": null}, "text": {"field": "tick", "type": "nominal"}}}
      ]
    },
    {
      "transform": [{"filter": "datum.panel == 11"}],
      "layer": [
        {"transform": [{"filter": "isValid(datum.hour)"}], "mark": "rule", "encoding": {"x": {"field": "hour", "type": "quantitative", "scale": {"domain": [0, 96], "range": [491, 586], "nice": false}, "axis": null}, "y": {"datum": -2, "type": "quantitative", "axis": null}, "y2": {"datum": 1}}},
        {"transform": [{"filter": "isValid(datum.tick)"}], "mark": "rule", "encoding": {"y": {"field": "tick", "type": "quantitative", "scale": {"domain": [-2, 1], "range": [484, 391], "nice": false}, "axis": null}, "x": {"datum": 0, "type": "quantitative", "axis": null}, "x2": {"datum": 96}}},
        {"transform": [{"filter": "isValid(datum.hour)"}], "mark": {"type": "line", "color": "black", "strokeWidth": 5, "strokeJoin": "miter"}, "encoding": {"x": {"field": "hour", "type": "quantitative", "scale": {"domain": [0, 96], "range": [491, 586], "nice": false}, "axis": null}, "y": {"field": "level", "type": "quantitative", "scale": {"domain": [-2, 1], "range": [484, 391], "nice": false}, "axis": null}}},
        {"transform": [{"filter": "datum.hour === 0"}], "mark": {"type": "rect", "filled": false, "color": "black", "strokeWidth": 1.5}, "encoding": {"x": {"datum": 0, "type": "quantitative", "axis": null}, "x2": {"datum": 96}, "y": {"datum": -2, "type": "quantitative", "axis": null}, "y2": {"datum": 1}}},
        {"transform": [{"filter": "datum.hour === 0"}], "mark": {"type": "text", "dy": -11}, "encoding": {"x": {"datum": 48, "type": "quantitative", "axis": null}, "y": {"datum": 1, "type": "quantitative", "axis": null}, "text": {"field": "panel", "type": "nominal"}}},
        {"transform": [{"filter": "isValid(datum.hour) && datum.hour < 96"}], "mark": {"type": "text", "baseline": "top", "dy": 2}, "encoding": {"x": {"field": "hour", "type": "quantitative", "axis": null}, "y": {"datum": -2, "type": "quantitative", "axis": null}, "text": {"field": "hour", "type": "nominal"}}},
        {"transform": [{"filter": "datum.hour === 96"}], "mark": {"type": "text", "baseline": "top", "dy": 2, "align": "right"}, "encoding": {"x": {"field": "hour", "type": "quantitative", "axis": null}, "y": {"datum": -2, "type": "quantitative", "axis": null}, "text": {"field": "hour", "type": "nominal"}}},
        {"transform": [{"filter": "isValid(datum.tick)"}], "mark": {"type": "text", "align": "right", "dx": -4.5}, "encoding": {"y": {"field": "tick", "type": "quantitative", "axis": null}, "x": {"datum": 0, "type": "quantitative", "axis": null}, "text": {"field": "tick", "type": "nominal"}}}
      ]
    },
    {
      "transform": [{"filter": "datum.panel == 12"}],
      "layer": [
        {"transform": [{"filter": "isValid(datum.hour)"}], "mark": "rule", "encoding": {"x": {"field": "hour", "type": "quantitative", "scale": {"domain": [0, 96], "range": [617, 711], "nice": false}, "axis": null}, "y": {"datum": -2, "type": "quantitative", "axis": null}, "y2": {"datum": 1}}},
        {"transform": [{"filter": "isValid(datum.tick)"}], "mark": "rule", "encoding": {"y": {"field": "tick", "type": "quantitative", "scale": {"domain": [-2, 1], "range": [484, 391], "nice": false}, "axis": null}, "x": {"datum": 0, "type": "quantitative", "axis": null}, "x2": {"datum": 96}}},
        {"transform": [{"filter": "isValid(datum.hour)"}], "mark": {"type": "line", "color": "black", "strokeWidth": 5, "strokeJoin": "miter"}, "encoding": {"x": {"field": "hour", "type": "quantitative", "scale": {"domain": [0, 96], "range": [617, 711], "nice": false}, "axis": null}, "y": {"field": "level", "type": "quantitative", "scale": {"domain": [-2, 1], "range": [484, 391], "nice": false}, "axis": null}}},
        {"transform": [{"filter": "datum.hour === 0"}], "mark": {"type": "rect", "filled": false, "color": "black", "strokeWidth": 1.5}, "encoding": {"x": {"datum": 0, "type": "quantitative", "axis": null}, "x2": {"datum": 96}, "y": {"datum": -2, "type": "quantitative", "axis": null}, "y2": {"datum": 1}}},
        {"transform": [{"filter": "datum.hour === 0"}], "mark": {"type": "text", "dy": -11}, "encoding": {"x": {"datum": 48, "type": "quantitative", "axis": null}, "y": {"datum": 1, "type": "quantitative", "axis": null}, "text": {"field": "panel", "type": "nominal"}}},
        {"transform": [{"filter": "isValid(datum.hour) && datum.hour < 96"}], "mark": {"type": "text", "baseline": "top", "dy": 2}, "encoding": {"x": {"field": "hour", "type": "quantitative", "axis": null}, "y": {"datum": -2, "type": "quantitative", "axis": null}, "text": {"field": "hour", "type": "nominal"}}},
        {"transform": [{"filter": "datum.hour === 96"}], "mark": {"type": "text", "baseline": "top", "dy": 2, "align": "right"}, "encoding": {"x": {"field": "hour", "type": "quantitative", "axis": null}, "y": {"datum": -2, "type": "quantitative", "axis": null}, "text": {"field": "hour", "type": "nominal"}}},
        {"transform": [{"filter": "isValid(datum.tick)"}], "mark": {"type": "text", "align": "right", "dx": -4.5}, "encoding": {"y": {"field": "tick", "type": "quantitative", "axis": null}, "x": {"datum": 0, "type": "quantitative", "axis": null}, "text": {"field": "tick", "type": "nominal"}}}
      ]
    },
    {
      "resolve": {"scale": {"color": "independent", "stroke": "independent"}},
      "encoding": {
        "x": {"field": "x", "type": "quantitative", "scale": {"domain": [0, 930], "range": [0, 930], "nice": false, "zero": false}, "axis": null},
        "y": {"field": "y", "type": "quantitative", "scale": {"domain": [0, 555], "range": [0, 555], "nice": false, "zero": false}, "axis": null}
      },
      "layer": [
        {
          "data": {"name": "axisTitles"},
          "transform": [{"filter": "datum.axis == 'y'"}],
          "mark": {"type": "text", "angle": 270, "fontWeight": "bold", "fontSize": 14, "color": "black", "align": "center", "baseline": "middle"},
          "encoding": {"text": {"field": "caption"}}
        },
        {
          "data": {"name": "axisTitles"},
          "transform": [{"filter": "datum.axis == 'x'"}],
          "mark": {"type": "text", "fontWeight": "bold", "fontSize": 13.5, "color": "black", "align": "center", "baseline": "middle"},
          "encoding": {"text": {"field": "caption"}}
        },
        {
          "data": {"name": "callouts"},
          "mark": {
            "type": "rect",
            "strokeWidth": 1.5,
            "fill": {"gradient": "linear", "x1": 0, "y1": 0, "x2": 0, "y2": 1, "stops": [{"offset": 0, "color": "#9cb1ae"}, {"offset": 1, "color": "#e6eaea"}]}
          },
          "encoding": {
            "x2": {"field": "x2"},
            "y2": {"field": "y2"},
            "stroke": {"field": "edge", "type": "nominal", "legend": null,
              "scale": {"domain": ["chaperone", "metabolic", "repair", "cytoskeleton", "signaling"], "range": ["#c0504d", "#1f3864", "#2e9e2e", "#ff33ff", "#9e5fc0"]}}
          }
        },
        {
          "data": {"name": "callouts"},
          "transform": [
            {"filter": "datum.group == 'chaperone'"},
            {"calculate": "(datum.x + datum.x2) / 2", "as": "cx"},
            {"calculate": "(datum.y + datum.y2) / 2 - (length(split(datum.label, '\\n')) - 1) * 11", "as": "cy"}
          ],
          "mark": {"type": "text", "fontWeight": "bold", "fontSize": 17.5, "lineHeight": 22, "lineBreak": "\n", "align": "center", "baseline": "middle"},
          "encoding": {
            "x": {"field": "cx", "type": "quantitative", "axis": null},
            "y": {"field": "cy", "type": "quantitative", "axis": null},
            "text": {"field": "label"},
            "color": {"field": "group", "type": "nominal", "legend": null,
              "scale": {"domain": ["chaperone", "metabolic", "repair", "cytoskeleton", "signaling"], "range": ["#c00000", "#1f3864", "#1a8c1a", "#ff00ff", "#7030a0"]}}
          }
        },
        {
          "data": {"name": "callouts"},
          "transform": [
            {"filter": "datum.group == 'metabolic' || datum.group == 'cytoskeleton'"},
            {"calculate": "(datum.x + datum.x2) / 2", "as": "cx"},
            {"calculate": "(datum.y + datum.y2) / 2 - (length(split(datum.label, '\\n')) - 1) * 9.25", "as": "cy"}
          ],
          "mark": {"type": "text", "fontWeight": "bold", "fontSize": 15, "lineHeight": 18.5, "lineBreak": "\n", "align": "center", "baseline": "middle"},
          "encoding": {
            "x": {"field": "cx", "type": "quantitative", "axis": null},
            "y": {"field": "cy", "type": "quantitative", "axis": null},
            "text": {"field": "label"},
            "color": {"field": "group", "type": "nominal", "legend": null,
              "scale": {"domain": ["chaperone", "metabolic", "repair", "cytoskeleton", "signaling"], "range": ["#c00000", "#1f3864", "#1a8c1a", "#ff00ff", "#7030a0"]}}
          }
        },
        {
          "data": {"name": "callouts"},
          "transform": [
            {"filter": "datum.group == 'repair' || datum.group == 'signaling'"},
            {"calculate": "(datum.x + datum.x2) / 2", "as": "cx"},
            {"calculate": "(datum.y + datum.y2) / 2 - (length(split(datum.label, '\\n')) - 1) * 8", "as": "cy"}
          ],
          "mark": {"type": "text", "fontWeight": "bold", "fontSize": 13, "lineHeight": 16, "lineBreak": "\n", "align": "center", "baseline": "middle"},
          "encoding": {
            "x": {"field": "cx", "type": "quantitative", "axis": null},
            "y": {"field": "cy", "type": "quantitative", "axis": null},
            "text": {"field": "label"},
            "color": {"field": "group", "type": "nominal", "legend": null,
              "scale": {"domain": ["chaperone", "metabolic", "repair", "cytoskeleton", "signaling"], "range": ["#c00000", "#1f3864", "#1a8c1a", "#ff00ff", "#7030a0"]}}
          }
        },
        {
          "data": {"name": "arrows"},
          "mark": {"type": "rule", "strokeWidth": 4.5, "strokeDash": []},
          "encoding": {
            "x2": {"field": "x2"},
            "y2": {"field": "y2"},
            "color": {"field": "group", "type": "nominal", "legend": null,
              "scale": {"domain": ["chaperone", "metabolic", "repair", "cytoskeleton", "signaling"], "range": ["#c00000", "#0f2d62", "#1a8c1a", "#ff00ff", "#800080"]}}
          }
        },
        {
          "data": {"name": "arrows"},
          "transform": [{"calculate": "atan2(datum.x2 - datum.x, datum.y - datum.y2) * 180 / PI", "as": "heading"}],
          "mark": {"type": "point", "shape": "M-0.65,1L0,0L0.65,1", "filled": false, "size": 650, "strokeWidth": 4.5, "strokeJoin": "miter", "opacity": 1},
          "encoding": {
            "x": {"field": "x2", "type": "quantitative", "axis": null},
            "y": {"field": "y2", "type": "quantitative", "axis": null},
            "angle": {"field": "heading", "type": "quantitative", "scale": null},
            "color": {"field": "group", "type": "nominal", "legend": null,
              "scale": {"domain": ["chaperone", "metabolic", "repair", "cytoskeleton", "signaling"], "range": ["#c00000", "#0f2d62", "#1a8c1a", "#ff00ff", "#800080"]}}
          }
        }
      ]
    }
  ]
}
